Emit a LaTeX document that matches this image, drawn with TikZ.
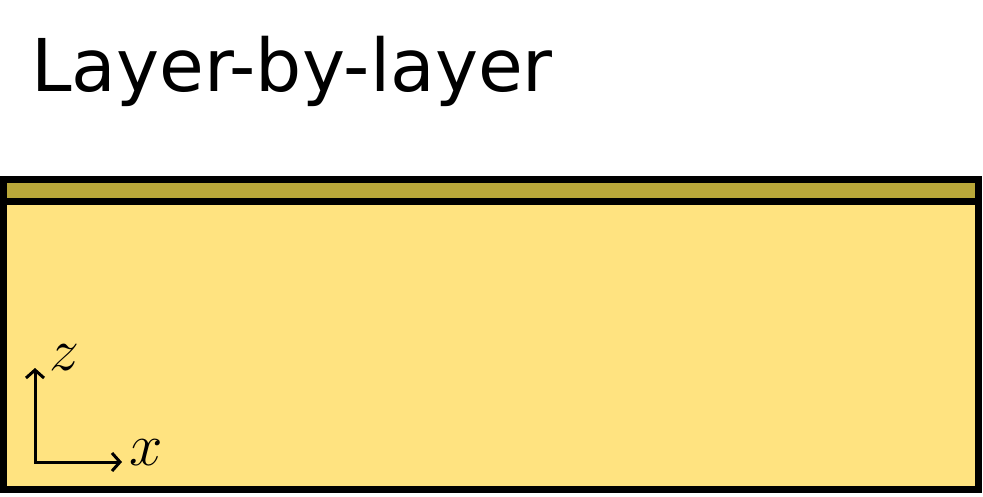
\RequirePackage{fix-cm}
\documentclass[tikz,border=0pt]{standalone}
\usepackage{fontspec}
\newfontfamily\titlefont{DejaVu Sans}
\usetikzlibrary{arrows.meta, positioning}
\definecolor{layerOlive}{RGB}{186,168,58}
\definecolor{bulkYellow}{RGB}{255,227,128}

\begin{document}
\begin{tikzpicture}[x=1pt, y=-1pt,
    slab/.style={draw=black, line width=7pt},
    axis/.style={line width=3pt, {Straight Barb[length=8pt, width=18pt]}-{Straight Barb[length=8pt, width=18pt]}},
    axislabel/.style={inner sep=0pt, font=\fontsize{60}{72}\selectfont}]
    \useasboundingbox (0,0) rectangle (983,497);
    \node[anchor=base west, inner sep=0pt, font=\titlefont\fontsize{72.8}{88}\selectfont] (title) at (31,92) {Layer-by-layer};
    \draw[slab, fill=bulkYellow] (3.5,202) rectangle (978,489);
    \draw[slab, fill=layerOlive] (3.5,180) rectangle (978,202);
    \coordinate (origin) at (35,462);
    \coordinate (zTip) at (35,368);
    \coordinate (xTip) at (122,462);
    \draw[axis] (zTip) -- (origin) -- (xTip);
    \node[axislabel] (zLabel) at (64,358) {$z$};
    \node[axislabel] (xLabel) at (146,453) {$x$};
  \end{tikzpicture}
\end{document}
